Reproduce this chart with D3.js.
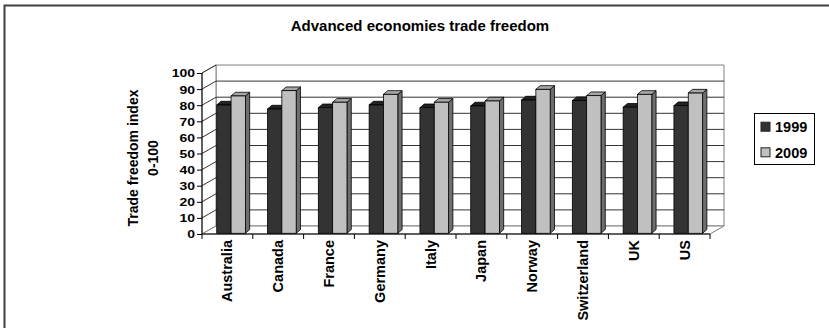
<!DOCTYPE html>
<html>
<head>
<meta charset="utf-8">
<script src="https://cdn.jsdelivr.net/npm/d3@7"></script>
<style>
  body { margin: 0; background: #fff; }
  text { font-family: Arial, "Liberation Sans", sans-serif; font-weight: bold; fill: #000; }
</style>
</head>
<body>
<div id="chart"></div>
<script>
var countries = ["Australia", "Canada", "France", "Germany", "Italy", "Japan", "Norway", "Switzerland", "UK", "US"];
var seriesNames = ["1999", "2009"];
var values1999 = [79.7, 77.2, 78.0, 79.7, 78.0, 79.1, 82.8, 82.4, 78.3, 79.3];
var values2009 = [85.3, 88.6, 81.4, 86.3, 81.4, 82.2, 89.4, 85.5, 86.3, 87.1];
var yTicks = [0, 10, 20, 30, 40, 50, 60, 70, 80, 90, 100];

var width = 829, height = 328;

// oblique depth of the 3d box, and of each bar
var depth = {x: 14, y: -8};
var barDepth = {x: 4.3, y: -3.7};

var colors = {
  "1999": {front: "#333333", top: "#222222", side: "#1a1a1a"},
  "2009": {front: "#c0c0c0", top: "#a6a6a6", side: "#6e6e6e"}
};

var xScale = d3.scaleBand().domain(countries).range([202, 710]);
var yScale = d3.scaleLinear().domain([0, 100]).range([234, 73]);

var svg = d3.select("#chart").append("svg")
  .attr("width", width)
  .attr("height", height);

// chart area border (runs off the right and bottom edge)
svg.append("rect")
  .attr("x", 4.5).attr("y", 5.5)
  .attr("width", 900).attr("height", 400)
  .attr("fill", "none")
  .attr("stroke", "#404040")
  .attr("stroke-width", 2);

svg.append("text")
  .attr("x", 420).attr("y", 30.5)
  .attr("text-anchor", "middle")
  .style("font-size", "15px")
  .text("Advanced economies trade freedom");

var x0 = xScale.range()[0], x1 = xScale.range()[1];
var yBottom = yScale(0), yTop = yScale(100);

function pts(arr) { return arr.map(function(p) { return p[0] + "," + p[1]; }).join(" "); }

// walls and floor
svg.append("polygon")
  .attr("points", pts([[x0 + depth.x, yTop + depth.y], [x1 + depth.x, yTop + depth.y], [x1 + depth.x, yBottom + depth.y], [x0 + depth.x, yBottom + depth.y]]))
  .attr("fill", "#fff").attr("stroke", "#808080").attr("stroke-width", 1);
svg.append("polygon")
  .attr("points", pts([[x0, yBottom], [x0, yTop], [x0 + depth.x, yTop + depth.y], [x0 + depth.x, yBottom + depth.y]]))
  .attr("fill", "#fff").attr("stroke", "#808080").attr("stroke-width", 1);
svg.append("polygon")
  .attr("points", pts([[x0, yBottom], [x1, yBottom], [x1 + depth.x, yBottom + depth.y], [x0 + depth.x, yBottom + depth.y]]))
  .attr("fill", "#fff").attr("stroke", "#808080").attr("stroke-width", 1);

// gridlines on back and left wall
var grid = svg.append("g").attr("class", "grid");
grid.selectAll(".back")
  .data(yTicks.slice(1, -1))
  .enter().append("line")
  .attr("x1", x0 + depth.x).attr("x2", x1 + depth.x)
  .attr("y1", function(d) { return yScale(d) + depth.y; })
  .attr("y2", function(d) { return yScale(d) + depth.y; })
  .attr("stroke", "#333").attr("stroke-width", 1);
grid.selectAll(".side")
  .data(yTicks.slice(1))
  .enter().append("line")
  .attr("x1", x0).attr("x2", x0 + depth.x)
  .attr("y1", function(d) { return yScale(d); })
  .attr("y2", function(d) { return yScale(d) + depth.y; })
  .attr("stroke", "#333").attr("stroke-width", 1);

// bars
var data = countries.map(function(c, i) {
  return {country: c, values: [{key: "1999", value: values1999[i]}, {key: "2009", value: values2009[i]}]};
});

var bw = xScale.bandwidth() * 0.282;
var bOff = xScale.bandwidth() * 0.29;
var base = -0.7;

var groups = svg.selectAll(".group")
  .data(data)
  .enter().append("g")
  .attr("class", "group");

var bars = groups.selectAll(".bar")
  .data(function(d) { return d.values; })
  .enter().append("g")
  .attr("class", "bar");

function barGeom(d, i, nodes) {
  var country = d3.select(nodes[i].parentNode).datum().country;
  var bx = xScale(country) + bOff + i * bw;
  return {x: bx, y0: yScale(0) + base, y1: yScale(d.value) + base};
}

bars.each(function(d, i, nodes) {
  var g = barGeom(d, i, nodes);
  var sel = d3.select(this);
  var c = colors[d.key];
  // side
  sel.append("polygon")
    .attr("points", pts([[g.x + bw, g.y0], [g.x + bw, g.y1], [g.x + bw + barDepth.x, g.y1 + barDepth.y], [g.x + bw + barDepth.x, g.y0 + barDepth.y]]))
    .attr("fill", c.side).attr("stroke", "#000").attr("stroke-width", 0.8);
  // top
  sel.append("polygon")
    .attr("points", pts([[g.x, g.y1], [g.x + bw, g.y1], [g.x + bw + barDepth.x, g.y1 + barDepth.y], [g.x + barDepth.x, g.y1 + barDepth.y]]))
    .attr("fill", c.top).attr("stroke", "#000").attr("stroke-width", 0.8);
  // front
  sel.append("rect")
    .attr("x", g.x).attr("y", g.y1)
    .attr("width", bw).attr("height", g.y0 - g.y1)
    .attr("fill", c.front).attr("stroke", "#000").attr("stroke-width", 0.8);
});

// axes
var yAxis = d3.axisLeft(yScale).tickValues(yTicks).tickSize(5).tickPadding(2);
var yAx = svg.append("g")
  .attr("transform", "translate(" + x0 + ",0)")
  .call(yAxis);
yAx.select(".domain").attr("d", "M0," + yTop + "V" + yBottom);
yAx.selectAll("text")
  .style("font-size", "11px")
  .attr("transform", function() {
    var t = d3.select(this);
    return "translate(-7,0) scale(1.27,1) translate(0,0)";
  })
  .attr("x", 0)
  .attr("dy", "0.36em");

var xAxis = d3.axisBottom(xScale).tickSize(0).tickPadding(0);
var xAx = svg.append("g")
  .attr("transform", "translate(0," + yBottom + ")")
  .call(xAxis);
xAx.select(".domain").attr("d", "M" + x0 + ",0H" + x1);
xAx.selectAll(".tick line").remove();
xAx.selectAll(".tick text")
  .style("font-size", "14.5px")
  .style("text-anchor", "end")
  .attr("x", 0).attr("y", 0).attr("dy", null)
  .attr("transform", "translate(5,6) rotate(-90)");

// ticks between categories on the x axis
xAx.selectAll(".sep")
  .data(countries.concat(["end"]))
  .enter().append("line")
  .attr("x1", function(d, i) { return x0 + i * xScale.step(); })
  .attr("x2", function(d, i) { return x0 + i * xScale.step(); })
  .attr("y1", 0).attr("y2", 5)
  .attr("stroke", "#000");

svg.selectAll(".domain, .tick line").attr("stroke", "#000");

// y axis title
var yTitle = svg.append("g").attr("transform", "translate(0,158) rotate(-90)");
yTitle.append("text")
  .attr("x", 0).attr("y", 138)
  .attr("text-anchor", "middle")
  .style("font-size", "14px")
  .text("Trade freedom index");
yTitle.append("text")
  .attr("x", 0).attr("y", 157.5)
  .attr("text-anchor", "middle")
  .style("font-size", "14px")
  .text("0-100");

// legend
var legend = svg.append("g").attr("class", "legend");
legend.append("rect")
  .attr("x", 754.5).attr("y", 113.5)
  .attr("width", 60).attr("height", 51)
  .attr("fill", "#fff").attr("stroke", "#000");
var items = legend.selectAll(".item")
  .data(seriesNames)
  .enter().append("g")
  .attr("class", "item")
  .attr("transform", function(d, i) { return "translate(0," + (126.7 + i * 25.6) + ")"; });
items.append("rect")
  .attr("x", 761).attr("y", -4.5)
  .attr("width", 9).attr("height", 9)
  .attr("fill", function(d) { return colors[d].front; })
  .attr("stroke", "#222");
items.append("text")
  .attr("x", 775).attr("dy", "0.36em")
  .style("font-size", "14.5px")
  .text(function(d) { return d; });
</script>
</body>
</html>
